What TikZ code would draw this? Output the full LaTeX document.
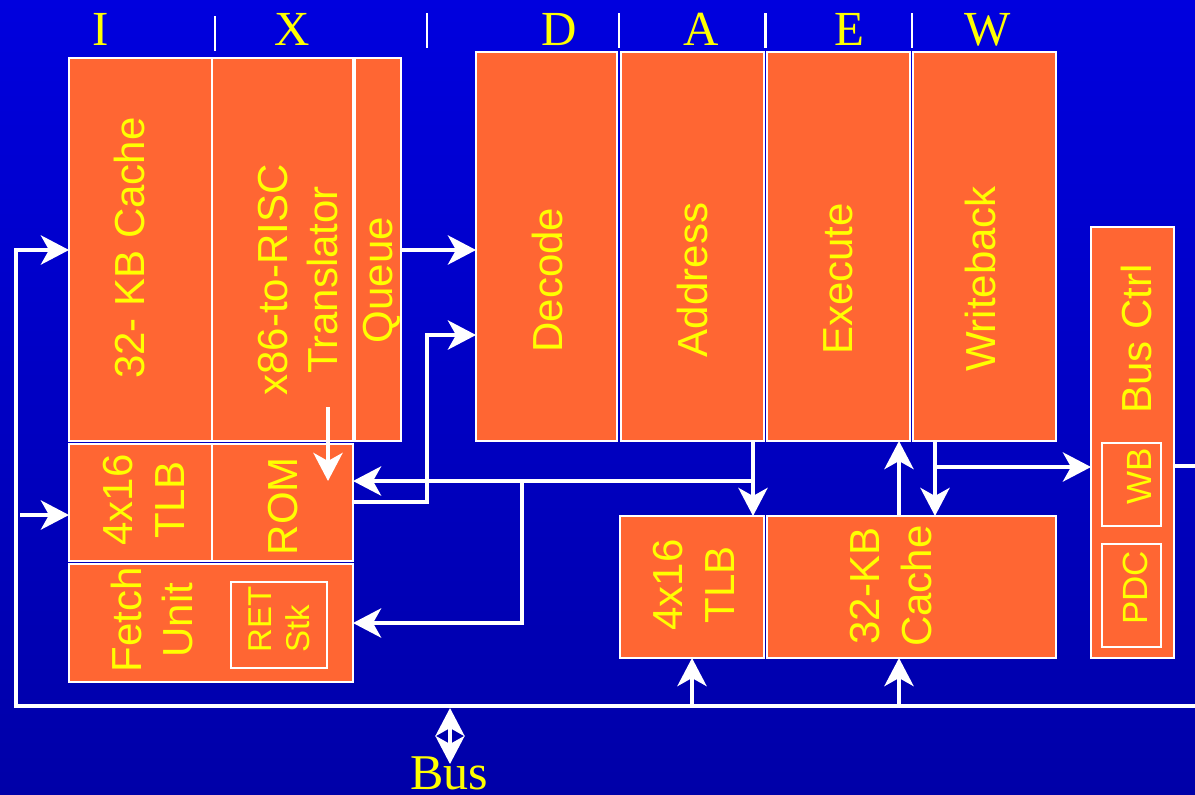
\documentclass[tikz,border=0pt]{standalone}
\usepackage{fontspec}
\setmainfont{Liberation Serif}
\setsansfont{Liberation Sans}
\usetikzlibrary{arrows.meta,fit}
\definecolor{bgtop}{RGB}{0,0,222}
\definecolor{bgbot}{RGB}{0,0,168}
\definecolor{org}{RGB}{255,102,51}
\definecolor{ylw}{RGB}{255,255,0}
\tikzset{
  blk/.style={draw=white, line width=1pt, fill=org, inner sep=0pt, outer sep=0pt},
  inner/.style={draw=white, line width=1.2pt, fill=org, inner sep=0pt, outer sep=0pt},
  lbl/.style={text=ylw, font=\sffamily\fontsize{21}{25}\selectfont, rotate=90, anchor=base, inner sep=0pt},
  slbl/.style={text=ylw, font=\sffamily\fontsize{16.5}{20}\selectfont, rotate=90, anchor=base west, inner sep=0pt},
  mlbl/.style={text=ylw, font=\sffamily\fontsize{17.5}{21}\selectfont, rotate=90, anchor=base, inner sep=0pt},
  stage/.style={text=ylw, font=\rmfamily\fontsize{24.5}{28}\selectfont, anchor=base, inner sep=0pt},
  sepline/.style={white, line width=1.3pt},
  wire/.style={white, line width=2.4pt},
  arr/.style={wire, -{Stealth[length=14pt,width=14.5pt,inset=4pt]}},
  darr/.style={wire, {Stealth[length=14pt,width=14.5pt,inset=4pt]}-{Stealth[length=14pt,width=14.5pt,inset=4pt]}}
}
\begin{document}
\begin{tikzpicture}[x=0.5pt,y=-0.5pt]
\useasboundingbox (0,0) rectangle (1195,794);
\shade[top color=bgtop, bottom color=bgbot] (0,0) rectangle (1195,794);

% stage letters
\node[stage] (sI) at (101,45) {I};
\node[stage] (sX) at (292,45) {X};
\node[stage] (sD) at (559,45) {D};
\node[stage] (sA) at (701,45) {A};
\node[stage] (sE) at (849,45) {E};
\node[stage] (sW) at (988,45) {W};
\draw[sepline] (215,16) -- (215,51);
\draw[sepline] (427,13) -- (427,48);
\draw[sepline] (619,13) -- (619,48);
\draw[sepline] (765.5,13) -- (765.5,48);
\draw[sepline] (912,13) -- (912,48);

% left blocks
\node[blk, fit={(69,58) (212,441)}] (cache1) {};
\node[blk, fit={(212,58) (353,441)}] (trans) {};
\node[blk, fit={(355,58) (401,441)}] (queue) {};
\node[blk, fit={(69,444) (212,561)}] (tlb1) {};
\node[blk, fit={(212,444) (353,561)}] (rom) {};
\node[blk, fit={(69,564) (353,682)}] (fetch) {};
\node[inner, fit={(231,582) (327,668)}] (ret) {};

% pipeline blocks
\node[blk, fit={(476,52) (617,441)}] (decode) {};
\node[blk, fit={(621,52) (764,441)}] (address) {};
\node[blk, fit={(767,52) (910,441)}] (execute) {};
\node[blk, fit={(913,52) (1056,441)}] (writeback) {};

% lower right blocks
\node[blk, fit={(620,516) (764,658)}] (tlb2) {};
\node[blk, fit={(767,516) (1056,658)}] (cache2) {};

% bus control
\node[blk, fit={(1091,227) (1174,658)}] (busctrl) {};
\node[inner, fit={(1102,443) (1161,526)}] (wb) {};
\node[inner, fit={(1102,544) (1161,647)}] (pdc) {};

% labels
\node[lbl] (lcache1) at (144,248) {32- KB Cache};
\node[lbl] (ltrans1) at (287,280) {x86-to-RISC};
\node[lbl] (ltrans2) at (337,280) {Translator};
\node[lbl] (lqueue) at (392,280) {Queue};
\node[lbl] (ldecode) at (562,280) {Decode};
\node[lbl] (laddress) at (707,280) {Address};
\node[lbl] (lexecute) at (852,279) {Execute};
\node[lbl] (lwriteback) at (995,279) {Writeback};
\node[lbl] (ltlb1a) at (132,500) {4x16};
\node[lbl] (ltlb1b) at (184,500) {TLB};
\node[lbl] (lrom) at (297,506) {ROM};
\node[lbl] (lfetch1) at (141,620) {Fetch};
\node[lbl] (lfetch2) at (192,620) {Unit};
\node[slbl] (lret1) at (271,653) {RET};
\node[slbl] (lret2) at (309,653) {Stk};
\node[lbl] (ltlb2a) at (682,585) {4x16};
\node[lbl] (ltlb2b) at (734,585) {TLB};
\node[lbl] (lcache2a) at (879,586) {32-KB};
\node[lbl] (lcache2b) at (931,586) {Cache};
\node[lbl] (lbusctrl) at (1151,339) {Bus Ctrl};
\node[mlbl] (lwb) at (1151,476) {WB};
\node[mlbl] (lpdc) at (1147,588) {PDC};

% bus
\coordinate (busL) at (16,706);
\coordinate (busR) at (1195,706);
\coordinate (cin) at (16,250);
\draw[arr] (busR) -- (busL) -- (cin) -- (cache1.west |- cin);
\coordinate (tlbin) at (20,515);
\draw[arr] (tlbin) -- (tlb1.west |- tlbin);

% translator -> ROM
\coordinate (tr) at (328,407);
\coordinate (trend) at (328,481);
\draw[arr] (tr) -- (trend);

% queue -> decode
\coordinate (qd) at (401,250);
\draw[arr] (qd) -- (decode.west |- qd);

% ROM -> decode
\coordinate (ro) at (353,502);
\coordinate (jr) at (427,335);
\draw[arr] (ro) -| (jr) -- (decode.west |- jr);

% address -> tlb2 and branches
\coordinate (ad) at (753,441);
\coordinate (ja) at (753,481);
\draw[arr] (ad) -- (tlb2.north -| ad);
\draw[arr] (ja) -- (rom.east |- ja);
\coordinate (jf) at (522,481);
\coordinate (ff) at (522,623);
\draw[arr] (jf) -- (ff) -- (fetch.east |- ff);

% cache2 <-> execute / writeback
\coordinate (ce) at (899,516);
\draw[arr] (ce) -- (execute.south -| ce);
\coordinate (wc) at (935,441);
\draw[arr] (wc) -- (cache2.north -| wc);
\coordinate (jw) at (935,467);
\draw[arr] (jw) -- (busctrl.west |- jw);

% bus -> tlb2 / cache2
\coordinate (bt) at (692,706);
\draw[arr] (bt) -- (tlb2.south -| bt);
\coordinate (bc) at (899,706);
\draw[arr] (bc) -- (cache2.south -| bc);

% bus ctrl out
\coordinate (bo) at (1174,466);
\coordinate (boe) at (1195,466);
\draw[wire] (bo) -- (boe);

% external bus
\coordinate (bu1) at (450,708);
\coordinate (bu2) at (450,764);
\draw[darr] (bu1) -- (bu2);
\node[stage, font=\rmfamily\fontsize{25}{30}\selectfont] (lbus) at (449,789) {Bus};
\end{tikzpicture}
\end{document}
